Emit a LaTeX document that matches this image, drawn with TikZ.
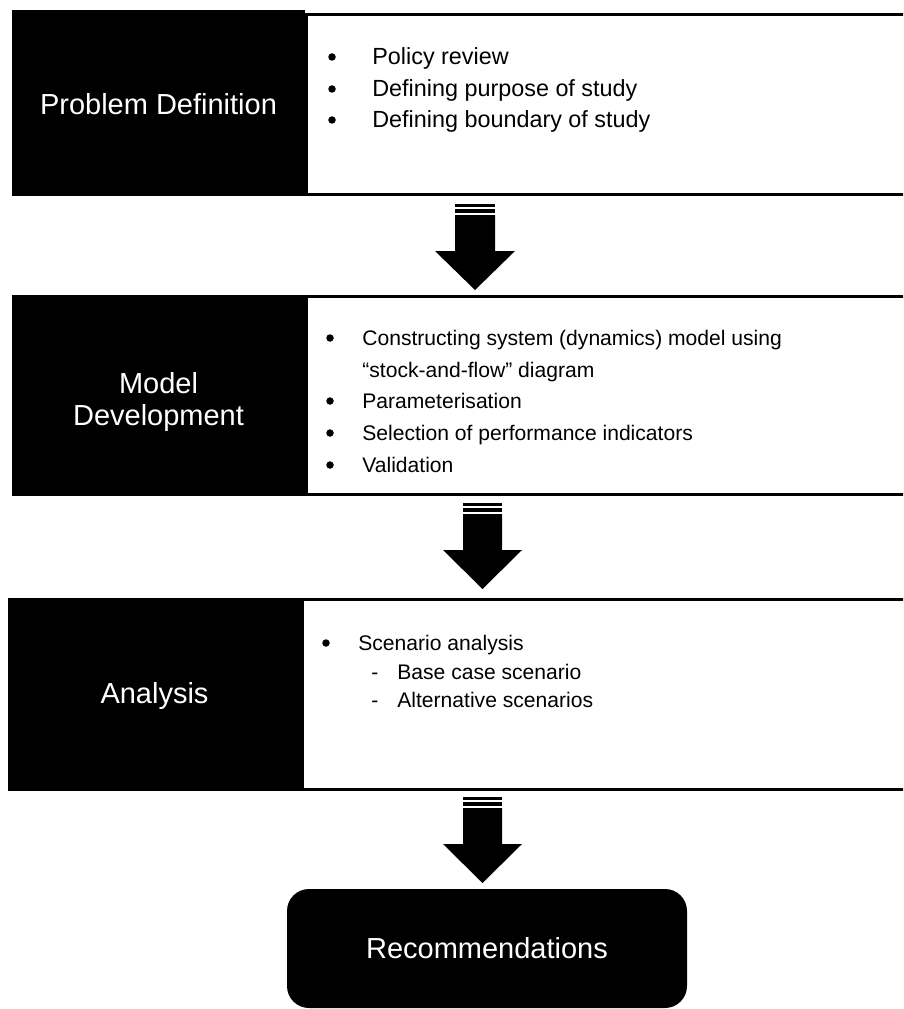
\documentclass[tikz,border=0pt]{standalone}
\usepackage{fontspec}
\setmainfont{Liberation Sans}
\tikzset{
  title/.style={text=white, inner sep=0pt, align=center, font=\fontsize{16.5}{18.5}\selectfont},
  item/.style={anchor=base west, inner sep=0pt, font=\fontsize{12}{14}\selectfont},
  bigitem/.style={item, font=\fontsize{13.3}{16}\selectfont},
  dot/.style={circle, fill, inner sep=0pt, minimum size=1.5mm},
  subdash/.style={anchor=base, inner sep=0pt, font=\fontsize{12}{14}\selectfont},
  panel/.style={draw, line width=0.6mm},
  rec/.style={fill=black, text=white, rounded corners=4.4mm, minimum width=80mm, minimum height=23.8mm, inner sep=0pt, font=\fontsize{16.5}{18.5}\selectfont}
}
\begin{document}
\begin{tikzpicture}[x=0.2mm,y=-0.2mm]
\clip (0,0) rectangle (903,1009);
% problem definition
\fill (12,10) rectangle (305,196);
\draw[panel] (306.5,14.5) rectangle (910,194.5);
\node[title, anchor=base] (pd) at (158.5,115) {Problem Definition};
\node[dot] (d11) at (332,57) {}; \node[bigitem] (i11) at (372,65) {Policy review};
\node[dot] (d12) at (332,89) {}; \node[bigitem] (i12) at (372,97) {Defining purpose of study};
\node[dot] (d13) at (332,120) {}; \node[bigitem] (i13) at (372,128) {Defining boundary of study};
% arrow 1
\fill (455,204) rectangle (495,207);
\fill (455,209) rectangle (495,213);
\fill (455,215) -- (495,215) -- (495,251) -- (515,251) -- (475,290) -- (435,251) -- (455,251) -- cycle;
% model development
\fill (12,295) rectangle (305,496);
\draw[panel] (306.5,296.5) rectangle (910,494.5);
\node[title] (md) at (158.5,402) {Model\\Development};
\node[dot] (d21) at (330,338) {}; \node[item] (i21) at (362,345) {Constructing system (dynamics) model using};
\node[item] (i22) at (362,377) {“stock-and-flow” diagram};
\node[dot] (d23) at (330,401) {}; \node[item] (i23) at (362,408) {Parameterisation};
\node[dot] (d24) at (330,433) {}; \node[item] (i24) at (362,440) {Selection of performance indicators};
\node[dot] (d25) at (330,465) {}; \node[item] (i25) at (362,472) {Validation};
% arrow 2
\fill (463,503) rectangle (502,506);
\fill (463,508) rectangle (502,512);
\fill (463,514) -- (502,514) -- (502,550) -- (522,550) -- (482.5,589) -- (443,550) -- (463,550) -- cycle;
% analysis
\fill (8,598) rectangle (301,791);
\draw[panel] (302.5,599.5) rectangle (910,789.5);
\node[title, anchor=base] (an) at (154.5,703) {Analysis};
\node[dot] (d31) at (326,643) {}; \node[item] (i31) at (358,650) {Scenario analysis};
\node[subdash] (d32) at (375,679) {-}; \node[item] (i32) at (397,679) {Base case scenario};
\node[subdash] (d33) at (375,707) {-}; \node[item] (i33) at (397,707) {Alternative scenarios};
% arrow 3
\fill (463,797) rectangle (502,800);
\fill (463,802) rectangle (502,806);
\fill (463,808) -- (502,808) -- (502,844) -- (522,844) -- (482.5,883) -- (443,844) -- (463,844) -- cycle;
% recommendations
\node[rec] (rc) at (487,948.5) {Recommendations};
\end{tikzpicture}
\end{document}
